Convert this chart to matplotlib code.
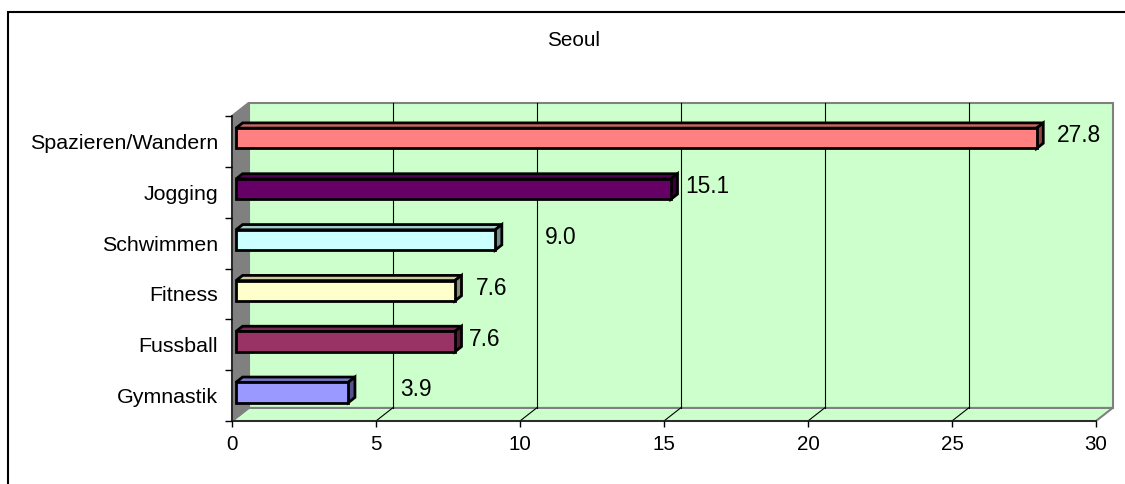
import matplotlib
matplotlib.use('Agg')
import matplotlib.pyplot as plt
from matplotlib.patches import Polygon, Rectangle
import numpy as np

# 数据 (从上到下)
categories = ['Spazieren/Wandern', 'Jogging', 'Schwimmen', 'Fitness', 'Fussball', 'Gymnastik']
values = [27.8, 15.1, 9.0, 7.6, 7.6, 3.9]
value_labels = ['27.8', '15.1', '9.0', '7.6', '7.6', '3.9']
bar_colors = ['#FF8080', '#660066', '#CCFFFF', '#FFFFCC', '#993366', '#9999FF']
x_ticks = [0, 5, 10, 15, 20, 25, 30]
title = 'Seoul'

# 标签位置(Excel 自动放置, 单位: 数值)
label_x = [28.64, 15.73, 10.87, 8.47, 8.23, 5.83]

plt.rcParams['font.family'] = ['Liberation Sans', 'DejaVu Sans']

W, H = 1125, 484
fig = plt.figure(figsize=(W / 100, H / 100), dpi=100)
ax = fig.add_axes([232 / W, (H - 421) / H, 864 / W, 305 / H])
ax.set_xlim(0, 30)
ax.set_ylim(0, 6)
ax.patch.set_visible(False)

# 3D 深度偏移
dx = 16.6 / 28.8
dy = 13 / 50.67
n = len(categories)
wall = '#CCFFCC'
edge_gray = '#808080'

# 背墙
ax.add_patch(Polygon([(dx, dy), (30 + dx, dy), (30 + dx, 6 + dy), (dx, 6 + dy)],
                     closed=True, facecolor=wall, edgecolor=edge_gray, lw=1.5,
                     clip_on=False, zorder=0.5))
# 底面
ax.add_patch(Polygon([(0, 0), (30, 0), (30 + dx, dy), (dx, dy)],
                     closed=True, facecolor=wall, edgecolor=edge_gray, lw=1.5,
                     clip_on=False, zorder=0.6))
# 左侧墙
ax.add_patch(Polygon([(0, 0), (dx, dy), (dx, 6 + dy), (0, 6)],
                     closed=True, facecolor=edge_gray, edgecolor=edge_gray, lw=1.5,
                     clip_on=False, zorder=0.7))

# 网格线
for t in x_ticks[1:-1]:
    ax.plot([t + dx, t + dx], [dy, 6 + dy], color='black', lw=0.8, clip_on=False, zorder=0.8)
    ax.plot([t, t + dx], [0, dy], color='black', lw=0.8, clip_on=False, zorder=0.8)


def shade(c, k):
    rgb = np.array(matplotlib.colors.to_rgb(c))
    return tuple(rgb * k)


# 3D 条形
h = 0.4
f0, f1 = 0.24, 0.64
for j in range(n):
    i = n - 1 - j
    v = values[j]
    yc = i + 0.5
    yb, yt = yc - h / 2, yc + h / 2
    c = bar_colors[j]
    ox0, oy0 = f0 * dx, f0 * dy
    ox1, oy1 = f1 * dx, f1 * dy
    top = [(ox0, yt + oy0), (v + ox0, yt + oy0), (v + ox1, yt + oy1), (ox1, yt + oy1)]
    side = [(v + ox0, yb + oy0), (v + ox1, yb + oy1), (v + ox1, yt + oy1), (v + ox0, yt + oy0)]
    front = [(ox0, yb + oy0), (v + ox0, yb + oy0), (v + ox0, yt + oy0), (ox0, yt + oy0)]
    ax.add_patch(Polygon(top, closed=True, facecolor=shade(c, 0.8), edgecolor='black',
                         lw=2.0, joinstyle='miter', clip_on=False, zorder=3))
    ax.add_patch(Polygon(side, closed=True, facecolor=shade(c, 0.55), edgecolor='black',
                         lw=2.0, joinstyle='miter', clip_on=False, zorder=3))
    ax.add_patch(Polygon(front, closed=True, facecolor=c, edgecolor='black',
                         lw=2.0, joinstyle='miter', clip_on=False, zorder=3.1))
    ax.text(label_x[j], yc + oy0 + 0.05, value_labels[j], fontsize=16.4,
            ha='left', va='center', zorder=4)

# 坐标轴
for s in ['top', 'right']:
    ax.spines[s].set_visible(False)
for s in ['left', 'bottom']:
    ax.spines[s].set_color('#222222')
    ax.spines[s].set_linewidth(1.3)
    ax.spines[s].set_zorder(1)

ax.set_xticks(x_ticks)
ax.set_xticklabels([str(t) for t in x_ticks])
ax.tick_params(axis='x', length=4, width=1, pad=6, labelsize=14.8)

ax.set_yticks([n - 1 - j + 0.5 for j in range(n)])
ax.set_yticklabels(categories)
ax.tick_params(axis='y', which='major', length=0, pad=10, labelsize=15.4)
ax.set_yticks(range(n + 1), minor=True)
ax.tick_params(axis='y', which='minor', length=5, width=1)

# 标题
fig.text(574 / W, 1 - 40 / H, title, fontsize=14.9, ha='center', va='center')

# 外框
fig.patches.append(Rectangle((8 / W, -0.1), 1.2, 1 - 12 / H + 0.1, transform=fig.transFigure,
                             facecolor='none', edgecolor='black', lw=1.5))

fig.savefig('out.png', dpi=100)
